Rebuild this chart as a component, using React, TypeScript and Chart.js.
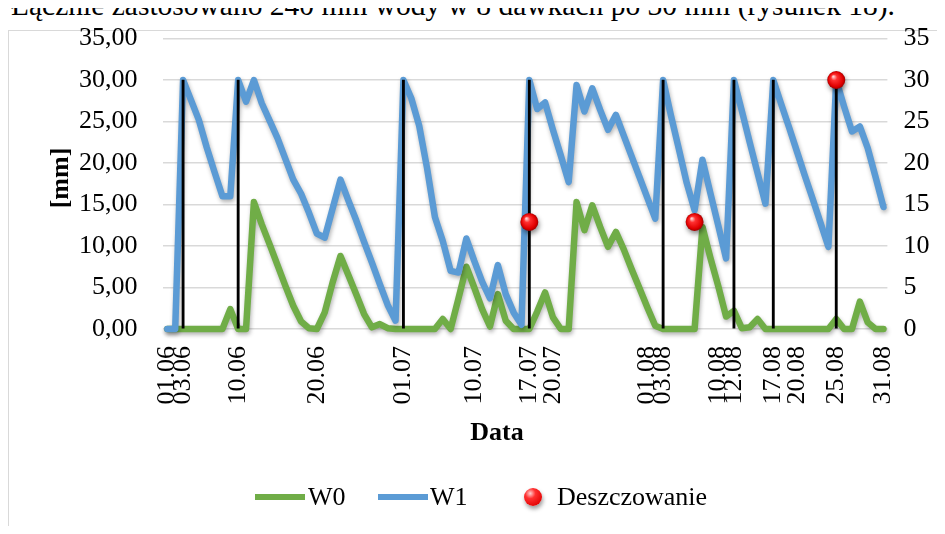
import React, { useEffect, useRef } from 'react';
import { Chart, registerables } from 'chart.js';

Chart.register(...registerables);

// Daily values, day 0 = 01.06, day 91 = 31.08
const W0 = [
  0, 0, 0, 0, 0, 0, 0, 0, 2.4, 0,
  0, 15.3, 12.6, 10.2, 7.7, 5.2, 2.8, 0.9, 0.1, 0,
  2.0, 5.6, 8.8, 6.5, 4.2, 1.8, 0.2, 0.6, 0.1, 0,
  0, 0, 0, 0, 0, 1.2, 0, 3.7, 7.5, 5.0,
  2.4, 0.3, 4.2, 1.0, 0, 0, 0, 2.1, 4.4, 1.4,
  0, 0, 15.3, 11.9, 14.9, 12.3, 9.9, 11.7, 9.6, 7.2,
  4.9, 2.6, 0.4, 0, 0, 0, 0, 0, 12.3, 8.6,
  5.2, 1.5, 2.2, 0.1, 0.2, 1.2, 0, 0, 0, 0,
  0, 0, 0, 0, 0, 1.2, 0, 0, 3.3, 0.8,
  0, 0,
];

const W1 = [
  0, 0, 30, 27.6, 25.2, 21.9, 18.9, 16.0, 16.0, 30,
  27.4, 30, 27.2, 25.1, 23.0, 20.5, 18.0, 16.3, 14.0, 11.5,
  11.0, 14.5, 18.0, 15.5, 13.1, 10.5, 8.0, 5.4, 2.9, 1.0,
  30, 27.8, 24.5, 19.4, 13.5, 10.6, 7.0, 6.8, 10.9, 8.2,
  5.7, 3.7, 7.7, 4.2, 2.0, 0.5, 30, 26.5, 27.3, 24.0,
  20.9, 17.7, 29.4, 26.2, 29.0, 26.4, 24.0, 25.8, 23.3, 20.8,
  18.3, 15.8, 13.3, 30, 25.7, 21.7, 17.6, 14.3, 20.4, 16.4,
  12.5, 8.5, 30, 26.3, 22.5, 18.8, 15.1, 30, 27.1, 24.3,
  21.4, 18.5, 15.7, 12.8, 9.9, 30, 26.8, 23.8, 24.4, 21.8,
  18.3, 14.7,
];

const irrigationDays = [2, 9, 30, 46, 63, 72, 77, 85];
const irrigationDose = [30, 30, 30, 30, 30, 30, 30, 30];

const rainDays = [46, 67, 85];
const rainValues = [12.9, 12.9, 30];

const tickDays = [0, 2, 9, 19, 30, 39, 46, 49, 61, 63, 70, 72, 77, 80, 85, 91];
const tickLabels = [
  '01.06', '03.06', '10.06', '20.06', '01.07', '10.07', '17.07', '20.07',
  '01.08', '03.08', '10.08', '12.08', '17.08', '20.08', '25.08', '31.08',
];

const FONT = "'Liberation Serif', 'Times New Roman', serif";
const TICK_SIZE = 26;

const ballColor = (ctx: any) => {
  const chart = ctx.chart;
  const raw = ctx.raw;
  if (!raw || !chart.scales || !chart.scales.x || !chart.scales.y) return '#ff0000';
  const px = chart.scales.x.getPixelForValue(raw.x);
  const py = chart.scales.y.getPixelForValue(raw.y);
  if (!isFinite(px) || !isFinite(py)) return '#ff0000';
  const g = chart.ctx.createRadialGradient(px - 3, py - 3.5, 0.5, px, py, 9);
  g.addColorStop(0, '#ffd0d0');
  g.addColorStop(0.3, '#ff3030');
  g.addColorStop(0.8, '#e00000');
  g.addColorStop(1, '#a00000');
  return g;
};

const shadowPlugin = {
  id: 'dsShadow',
  beforeDatasetDraw(chart: any, args: any) {
    const ds = chart.data.datasets[args.index];
    if (ds.shadowColor) {
      const c = chart.ctx;
      c.save();
      c.shadowColor = ds.shadowColor;
      c.shadowBlur = ds.shadowBlur || 0;
      c.shadowOffsetX = ds.shadowOffsetX || 0;
      c.shadowOffsetY = ds.shadowOffsetY || 0;
    }
  },
  afterDatasetDraw(chart: any, args: any) {
    const ds = chart.data.datasets[args.index];
    if (ds.shadowColor) chart.ctx.restore();
  },
};

export default function App() {
  const ref = useRef<HTMLCanvasElement>(null);

  useEffect(() => {
    const canvas = ref.current;
    if (!canvas) return;
    const chart = new Chart(canvas, {
      type: 'line',
      data: {
        datasets: [
          {
            label: 'Deszczowanie',
            type: 'line',
            data: rainDays.map((d, i) => ({ x: d, y: rainValues[i] })),
            showLine: false,
            pointRadius: 9,
            pointBorderWidth: 0,
            pointBackgroundColor: ballColor,
            backgroundColor: ballColor,
            borderColor: 'rgba(0,0,0,0)',
            order: 0,
            clip: false,
            shadowColor: 'rgba(0,0,0,0.45)',
            shadowBlur: 5,
            shadowOffsetX: 1,
            shadowOffsetY: 3,
          } as any,
          {
            label: 'dawki',
            type: 'bar',
            data: irrigationDays.map((d, i) => ({ x: d, y: irrigationDose[i] })),
            backgroundColor: '#000000',
            borderWidth: 0,
            barThickness: 2.2,
            order: 1,
          } as any,
          {
            label: 'W1',
            type: 'line',
            data: W1.map((v, i) => ({ x: i, y: v })),
            borderColor: '#5B9BD5',
            backgroundColor: '#5B9BD5',
            borderWidth: 6.5,
            pointRadius: 0,
            tension: 0,
            borderJoinStyle: 'round',
            borderCapStyle: 'round',
            order: 2,
            clip: false,
            shadowColor: 'rgba(0,0,0,0.3)',
            shadowBlur: 4,
            shadowOffsetX: 1,
            shadowOffsetY: 2.5,
          } as any,
          {
            label: 'W0',
            type: 'line',
            data: W0.map((v, i) => ({ x: i, y: v })),
            borderColor: '#70AD47',
            backgroundColor: '#70AD47',
            borderWidth: 6.5,
            pointRadius: 0,
            tension: 0,
            borderJoinStyle: 'round',
            borderCapStyle: 'round',
            order: 3,
            clip: false,
            shadowColor: 'rgba(0,0,0,0.3)',
            shadowBlur: 4,
            shadowOffsetX: 1,
            shadowOffsetY: 2.5,
          } as any,
        ],
      },
      options: {
        animation: false,
        responsive: false,
        events: [],
        layout: { autoPadding: false, padding: { top: 30.5, left: 0, right: 0, bottom: 0 } },
        plugins: {
          legend: { display: false },
          tooltip: { enabled: false },
        },
        scales: {
          x: {
            type: 'linear',
            min: -0.5,
            max: 91.5,
            offset: false,
            grid: { display: false },
            border: { display: false },
            afterBuildTicks: (scale: any) => {
              scale.ticks = tickDays.map((v) => ({ value: v }));
            },
            afterFit: (scale: any) => {
              scale.height = 197;
              scale.paddingLeft = 0;
              scale.paddingRight = 0;
            },
            ticks: {
              autoSkip: false,
              minRotation: 90,
              maxRotation: 90,
              padding: 9,
              color: '#000',
              font: { family: FONT, size: TICK_SIZE },
              callback: (_v: any, i: number) => tickLabels[i],
            },
          },
          y: {
            type: 'linear',
            position: 'left',
            min: 0,
            max: 35,
            grid: { color: '#d9d9d9', lineWidth: 1.5, drawTicks: false },
            border: { display: false },
            afterFit: (scale: any) => {
              scale.width = 155.4;
              scale.paddingTop = 0;
              scale.paddingBottom = 0;
            },
            ticks: {
              stepSize: 5,
              padding: 26,
              color: '#000',
              font: { family: FONT, size: TICK_SIZE },
              callback: (v: any) => Number(v).toFixed(2).replace('.', ','),
            },
          },
          y2: {
            type: 'linear',
            position: 'right',
            min: 0,
            max: 35,
            grid: { display: false, drawTicks: false },
            border: { display: false },
            afterFit: (scale: any) => {
              scale.width = 49.6;
              scale.paddingTop = 0;
              scale.paddingBottom = 0;
            },
            ticks: {
              stepSize: 5,
              padding: 16,
              color: '#000',
              font: { family: FONT, size: TICK_SIZE },
              callback: (v: any) => String(v),
            },
          },
        },
      } as any,
      plugins: [shadowPlugin as any],
    });
    return () => chart.destroy();
  }, []);

  const textStyle: React.CSSProperties = {
    position: 'absolute',
    fontFamily: FONT,
    fontSize: TICK_SIZE,
    color: '#000',
    lineHeight: '30px',
    height: 30,
    whiteSpace: 'nowrap',
  };
  const legendTop = 474;

  return (
    <div style={{ position: 'relative', width: 929, height: 518 }}>
      <div
        style={{
          position: 'absolute',
          left: 3,
          top: -17,
          fontFamily: FONT,
          fontSize: 29.5,
          lineHeight: '29px',
          whiteSpace: 'nowrap',
          color: '#000',
        }}
      >
        Łącznie zastosowano 240 mm wody w 8 dawkach po 30 mm (rysunek 18).
      </div>
      <div
        style={{
          position: 'absolute',
          left: 0,
          top: 22,
          width: 936,
          height: 504,
          boxSizing: 'border-box',
          borderTop: '1px solid #d9d9d9',
          borderLeft: '1px solid #d9d9d9',
          background: '#fff',
        }}
      />
      <canvas
        ref={ref}
        width={929}
        height={518}
        style={{ position: 'absolute', left: 0, top: 0, width: 929, height: 518 }}
      />
      <div
        style={{
          ...textStyle,
          left: 2,
          top: 155,
          width: 100,
          textAlign: 'center',
          fontWeight: 'bold',
          transform: 'rotate(-90deg)',
        }}
      >
        [mm]
      </div>
      <div style={{ ...textStyle, left: 389, top: 409, width: 200, textAlign: 'center', fontWeight: 'bold' }}>
        Data
      </div>
      <div style={{ position: 'absolute', left: 247, top: legendTop + 12, width: 50, height: 6, background: '#70AD47' }} />
      <div style={{ ...textStyle, left: 300, top: legendTop }}>W0</div>
      <div style={{ position: 'absolute', left: 370, top: legendTop + 12, width: 50, height: 6, background: '#5B9BD5' }} />
      <div style={{ ...textStyle, left: 422, top: legendTop }}>W1</div>
      <div
        style={{
          position: 'absolute',
          left: 516,
          top: legendTop + 6,
          width: 18,
          height: 18,
          borderRadius: '50%',
          background: 'radial-gradient(circle at 35% 30%, #ffd0d0 0%, #ff3030 30%, #e00000 80%, #a00000 100%)',
          boxShadow: '1px 3px 4px rgba(0,0,0,0.4)',
        }}
      />
      <div style={{ ...textStyle, left: 549, top: legendTop }}>Deszczowanie</div>
    </div>
  );
}
